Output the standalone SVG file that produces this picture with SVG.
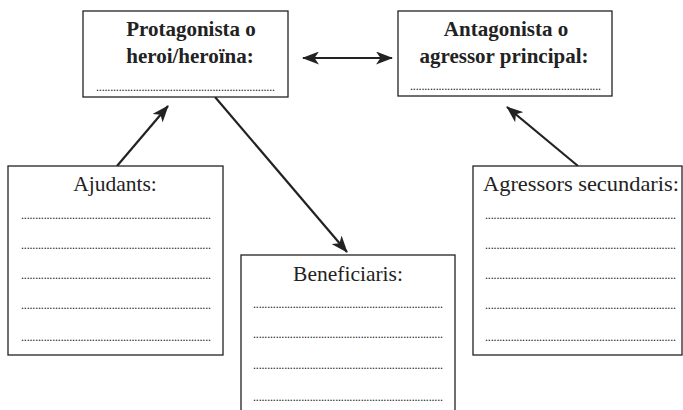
<svg xmlns="http://www.w3.org/2000/svg" width="683" height="410" viewBox="0 0 683 410" font-family="Liberation Serif, serif">
<style>
text{fill:#222}
.box{fill:#fff;stroke:#222;stroke-width:1.3}
.tb{font-weight:bold;font-size:21px;text-anchor:middle}
.tr{font-size:21.5px}
.dots{font-size:12px}
.con{stroke:#222;stroke-width:2.2;fill:none}
</style>
<defs>
<marker id="ahL" viewBox="0 0 17 13" refX="16" refY="6.5" markerWidth="17" markerHeight="13" markerUnits="userSpaceOnUse" orient="auto-start-reverse">
<path d="M0,0 L17,6.5 L0,13 L4.5,6.5 Z" fill="#222"/>
</marker>
</defs>
<g id="connectors">
<line class="con" x1="303" y1="58" x2="392" y2="58" marker-start="url(#ahL)" marker-end="url(#ahL)"/>
<line class="con" x1="117" y1="166" x2="168" y2="106" marker-end="url(#ahL)"/>
<line class="con" x1="215" y1="97" x2="347" y2="252" marker-end="url(#ahL)"/>
<line class="con" x1="578" y1="166" x2="507" y2="107" marker-end="url(#ahL)"/>
</g>
<g id="protagonista">
<rect class="box" x="83" y="11" width="205" height="86"/>
<text class="tb" x="191" y="36">Protagonista o</text>
<text class="tb" x="190" y="63">heroi/heroïna:</text>
<text class="dots" x="96" y="91" textLength="179" lengthAdjust="spacing">...............................................................</text>
</g>
<g id="antagonista">
<rect class="box" x="398" y="11" width="214" height="85"/>
<text class="tb" x="506" y="36">Antagonista o</text>
<text class="tb" x="504" y="63">agressor principal:</text>
<text class="dots" x="410" y="90" textLength="191" lengthAdjust="spacing">...................................................................</text>
</g>
<g id="ajudants">
<rect class="box" x="8" y="166" width="215" height="189"/>
<text class="tr" x="115" y="191" text-anchor="middle">Ajudants:</text>
<text class="dots" x="21" y="219" textLength="190" lengthAdjust="spacing">...................................................................</text>
<text class="dots" x="21" y="249" textLength="190" lengthAdjust="spacing">...................................................................</text>
<text class="dots" x="21" y="279" textLength="190" lengthAdjust="spacing">...................................................................</text>
<text class="dots" x="21" y="309" textLength="190" lengthAdjust="spacing">...................................................................</text>
<text class="dots" x="21" y="341" textLength="190" lengthAdjust="spacing">...................................................................</text>
</g>
<g id="beneficiaris">
<rect class="box" x="241" y="255" width="214" height="165"/>
<text class="tr" x="348" y="281" text-anchor="middle">Beneficiaris:</text>
<text class="dots" x="253" y="308" textLength="190" lengthAdjust="spacing">...................................................................</text>
<text class="dots" x="253" y="338" textLength="190" lengthAdjust="spacing">...................................................................</text>
<text class="dots" x="253" y="369" textLength="190" lengthAdjust="spacing">...................................................................</text>
<text class="dots" x="253" y="401" textLength="190" lengthAdjust="spacing">...................................................................</text>
</g>
<g id="agressors">
<rect class="box" x="473" y="166" width="209" height="189"/>
<text class="tr" x="483" y="191" textLength="196" lengthAdjust="spacingAndGlyphs">Agressors secundaris:</text>
<text class="dots" x="485" y="219" textLength="191" lengthAdjust="spacing">...................................................................</text>
<text class="dots" x="485" y="249" textLength="191" lengthAdjust="spacing">...................................................................</text>
<text class="dots" x="485" y="279" textLength="191" lengthAdjust="spacing">...................................................................</text>
<text class="dots" x="485" y="309" textLength="191" lengthAdjust="spacing">...................................................................</text>
<text class="dots" x="485" y="341" textLength="191" lengthAdjust="spacing">...................................................................</text>
</g>
</svg>
